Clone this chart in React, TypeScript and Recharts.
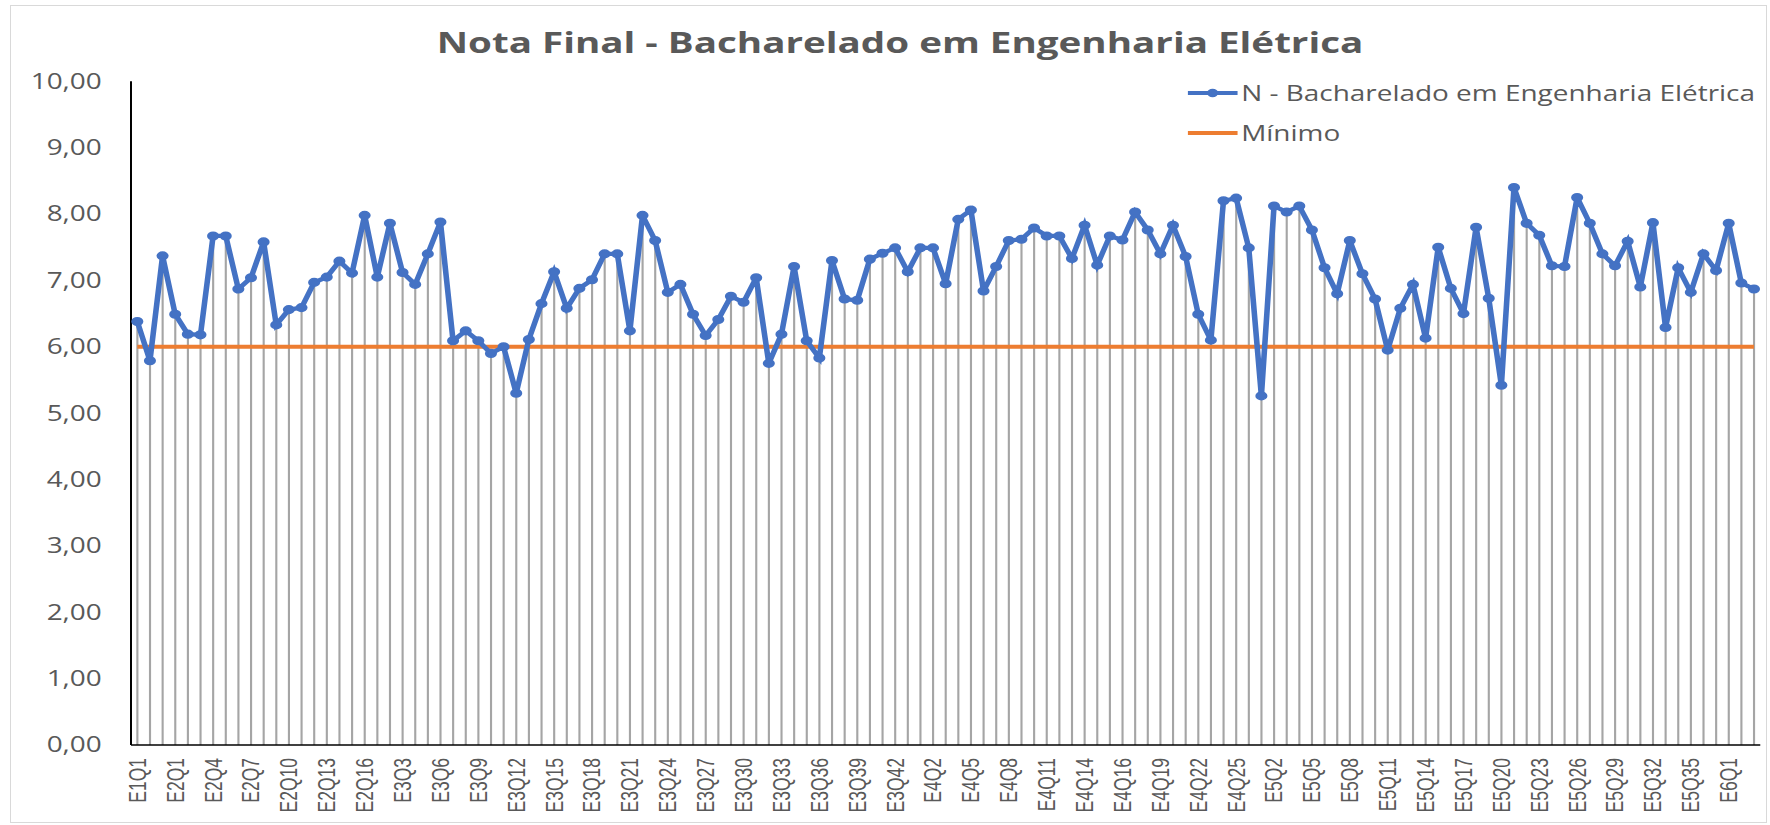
import React from 'react';
import { ComposedChart, Line, Bar, XAxis, YAxis } from 'recharts';

const categories: string[] = [
  'E1Q1','E1Q2','E1Q3',
  'E2Q1','E2Q2','E2Q3','E2Q4','E2Q5','E2Q6','E2Q7','E2Q8','E2Q9','E2Q10','E2Q11','E2Q12','E2Q13','E2Q14','E2Q15','E2Q16',
  'E3Q1','E3Q2','E3Q3','E3Q4','E3Q5','E3Q6','E3Q7','E3Q8','E3Q9','E3Q10','E3Q11','E3Q12','E3Q13','E3Q14','E3Q15','E3Q16','E3Q17','E3Q18','E3Q19','E3Q20','E3Q21','E3Q22','E3Q23','E3Q24','E3Q25','E3Q26','E3Q27','E3Q28','E3Q29','E3Q30','E3Q31','E3Q32','E3Q33','E3Q34','E3Q35','E3Q36','E3Q37','E3Q38','E3Q39','E3Q40','E3Q41','E3Q42','E3Q43',
  'E4Q1','E4Q2','E4Q3','E4Q4','E4Q5','E4Q6','E4Q7','E4Q8','E4Q9','E4Q10','E4Q11','E4Q12','E4Q13','E4Q14','E4Q15','E4Q15A','E4Q16','E4Q17','E4Q18','E4Q19','E4Q20','E4Q21','E4Q22','E4Q23','E4Q24','E4Q25','E4Q26',
  'E5Q1','E5Q2','E5Q3','E5Q4','E5Q5','E5Q6','E5Q7','E5Q8','E5Q9','E5Q10','E5Q11','E5Q12','E5Q13','E5Q14','E5Q15','E5Q16','E5Q17','E5Q18','E5Q19','E5Q20','E5Q21','E5Q22','E5Q23','E5Q24','E5Q25','E5Q26','E5Q27','E5Q28','E5Q29','E5Q30','E5Q31','E5Q32','E5Q33','E5Q34','E5Q35','E5Q36','E5Q37',
  'E6Q1','E6Q2','E6Q3',
];

const notaValues: number[] = [
  6.38, 5.79, 7.37, 6.49, 6.19, 6.18, 7.67, 7.67, 6.87, 7.04,
  7.58, 6.33, 6.56, 6.59, 6.97, 7.05, 7.29, 7.11, 7.98, 7.05,
  7.86, 7.12, 6.94, 7.40, 7.88, 6.09, 6.24, 6.09, 5.90, 6.00,
  5.30, 6.11, 6.65, 7.13, 6.58, 6.88, 7.01, 7.40, 7.40, 6.24,
  7.98, 7.60, 6.82, 6.94, 6.49, 6.17, 6.41, 6.76, 6.67, 7.04,
  5.75, 6.19, 7.21, 6.09, 5.83, 7.30, 6.72, 6.70, 7.32, 7.41,
  7.49, 7.13, 7.49, 7.49, 6.95, 7.92, 8.06, 6.84, 7.21, 7.60,
  7.62, 7.79, 7.67, 7.67, 7.33, 7.83, 7.23, 7.67, 7.61, 8.03,
  7.76, 7.40, 7.83, 7.36, 6.49, 6.10, 8.20, 8.24, 7.49, 5.26,
  8.12, 8.03, 8.12, 7.76, 7.19, 6.80, 7.60, 7.10, 6.72, 5.95,
  6.58, 6.94, 6.13, 7.50, 6.88, 6.50, 7.80, 6.73, 5.42, 8.40,
  7.86, 7.68, 7.22, 7.21, 8.25, 7.86, 7.40, 7.22, 7.59, 6.90,
  7.87, 6.29, 7.19, 6.82, 7.40, 7.15, 7.86, 6.96, 6.87,
];

const minimoValue = 6;
const yTicks: number[] = [0, 1, 2, 3, 4, 5, 6, 7, 8, 9, 10];

const seriesName = 'N - Bacharelado em Engenharia Elétrica';
const minName = 'Mínimo';
const titleText = 'Nota Final - Bacharelado em Engenharia Elétrica';

const data = categories.map((c, i) => ({ cat: c, nota: notaValues[i], minimo: minimoValue }));

const S = 1.33;
const W = 1770 / S;
const H = 825;
const BLUE = '#4472C4';
const ORANGE = '#ED7D31';
const GRAY_TXT = '#595959';

const XTick = (props: any) => {
  const { x, y, payload } = props;
  return (
    <text
      x={x}
      y={y}
      transform={`rotate(-90 ${x} ${y})`}
      textAnchor="end"
      dominantBaseline="central"
      fill={GRAY_TXT}
      fontSize={17.5}
      fontFamily="'Liberation Sans', Arial, sans-serif"
    >
      {payload.value}
    </text>
  );
};

const legendRows = [
  { name: seriesName, color: BLUE, dot: true },
  { name: minName, color: ORANGE, dot: false },
];

export default function App() {
  return (
    <div style={{ position: 'absolute', left: 0, top: 0, width: 1770, height: 825, background: '#fff', overflow: 'hidden' }}>
      <div
        style={{
          position: 'absolute',
          left: 0,
          top: 0,
          width: W,
          height: H,
          transform: `scaleX(${S})`,
          transformOrigin: '0 0',
        }}
      >
        <div
          style={{
            position: 'absolute',
            left: 676.7 - 450,
            width: 900,
            top: 22,
            height: 40,
            lineHeight: '40px',
            textAlign: 'center',
            fontFamily: "'Open Sans', sans-serif",
            fontWeight: 700,
            fontSize: 29,
            color: GRAY_TXT,
            whiteSpace: 'nowrap',
            zIndex: 2,
          }}
        >
          {titleText}
        </div>
        <div style={{ position: 'absolute', left: 1188 / S, top: 73, width: 450, zIndex: 2 }}>
          {legendRows.map((r) => (
            <div key={r.name} style={{ height: 40, display: 'flex', alignItems: 'center' }}>
              <svg width={37.5} height={14} style={{ display: 'block' }}>
                <line x1={0} y1={7} x2={37.5} y2={7} stroke={r.color} strokeWidth={4} />
                {r.dot && <circle cx={18.75} cy={7} r={4.2} fill={r.color} />}
              </svg>
              <span
                style={{
                  marginLeft: 2.5,
                  fontFamily: "'Open Sans', sans-serif",
                  fontSize: 21,
                  color: GRAY_TXT,
                  whiteSpace: 'nowrap',
                  lineHeight: '40px',
                }}
              >
                {r.name}
              </span>
            </div>
          ))}
        </div>
        <ComposedChart
          width={W}
          height={H}
          data={data}
          margin={{ top: 81.3, right: W - 1760.3 / S, bottom: 0, left: 0 }}
          barCategoryGap={0}
        >
          <XAxis
            dataKey="cat"
            interval={2}
            height={80}
            tickLine={false}
            tickSize={0}
            tickMargin={13}
            axisLine={{ stroke: '#000', strokeWidth: 1.5 }}
            tick={<XTick />}
          />
          <YAxis
            domain={[0, 10]}
            ticks={yTicks}
            width={131 / S}
            tickLine={false}
            tickSize={0}
            tickMargin={22}
            axisLine={{ stroke: '#000', strokeWidth: 1.5 }}
            tickFormatter={(v: number) => v.toFixed(2).replace('.', ',')}
            tick={{ fill: GRAY_TXT, fontSize: 21, fontFamily: "'Open Sans', sans-serif" }}
          />
          <Bar dataKey="nota" barSize={1.6} fill="#A5A5A5" isAnimationActive={false} legendType="none" />
          <Line
            dataKey="minimo"
            name={minName}
            type="linear"
            stroke={ORANGE}
            strokeWidth={4}
            dot={false}
            activeDot={false}
            isAnimationActive={false}
          />
          <Line
            dataKey="nota"
            name={seriesName}
            type="linear"
            stroke={BLUE}
            strokeWidth={4.2}
            dot={{ r: 3.8, fill: BLUE, stroke: BLUE, strokeWidth: 1.5 }}
            activeDot={false}
            isAnimationActive={false}
          />
        </ComposedChart>
      </div>
      <div
        style={{
          position: 'absolute',
          left: 10,
          top: 5,
          width: 1755,
          height: 816,
          border: '1px solid #D9D9D9',
          pointerEvents: 'none',
        }}
      />
    </div>
  );
}
